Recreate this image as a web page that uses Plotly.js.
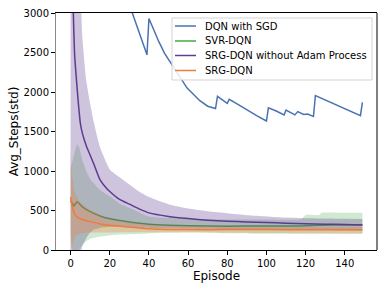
<!DOCTYPE html>
<html>
<head>
<meta charset="utf-8">
<script src="https://cdn.plot.ly/plotly-3.0.1.min.js"></script>
<style>html,body{margin:0;padding:0;background:#fff}#chart{width:388px;height:291px}</style>
</head>
<body>
<div id="chart"></div>
<script>
// DQN with SGD (mean only)
const dqnX = [28, 31.5, 35.7, 39, 40, 45, 48, 53, 59.5, 66, 70, 74, 75, 80, 81, 85, 90, 95, 100, 101, 105, 109, 110, 114.5, 116, 119, 121, 124, 125, 130, 135, 140, 145, 148, 149];
const dqnY = [3250, 3000, 2700, 2470, 2930, 2640, 2490, 2300, 2050, 1890, 1820, 1790, 1945, 1857, 1907, 1850, 1770, 1700, 1633, 1800, 1760, 1710, 1772, 1710, 1752, 1715, 1720, 1690, 1955, 1900, 1840, 1790, 1740, 1700, 1870];

// SVR-DQN
const svrX = [0, 1, 1.7, 2.5, 3.4, 4.3, 6, 8.5, 10, 15, 20, 25, 30, 40, 50, 60, 80, 100, 118, 120, 127, 128, 140, 149];
const svrMean = [620, 585, 557, 585, 611, 590, 545, 505, 485, 430, 395, 372, 355, 325, 312, 306, 302, 303, 305, 308, 312, 314, 318, 320];
const svrUpper = [1040, 1130, 1200, 1270, 1340, 1300, 1140, 970, 900, 760, 680, 590, 535, 425, 405, 392, 386, 385, 390, 443, 443, 470, 470, 470];
const svrLower = [200, -50, -100, -80, -40, 0, 60, 120, 140, 170, 185, 195, 200, 210, 220, 225, 212, 205, 205, 205, 205, 205, 205, 205];

// SRG-DQN without Adam Process
const noAdamX = [0, 1, 1.4, 2, 3, 4, 5, 6, 8, 10, 12, 15, 18, 20, 25, 30, 35, 40, 50, 60, 70, 80, 90, 100, 110, 120, 130, 140, 149];
const noAdamMean = [4800, 3400, 3000, 2500, 2150, 1850, 1600, 1480, 1320, 1200, 1080, 890, 790, 740, 640, 580, 520, 470, 425, 398, 378, 365, 355, 348, 340, 333, 327, 322, 318];
const noAdamUpper = [12000, 9000, 8000, 6500, 5000, 4000, 3300, 2700, 2150, 1850, 1600, 1300, 1120, 1020, 920, 830, 740, 670, 580, 525, 490, 465, 440, 425, 410, 402, 398, 395, 393];
const noAdamLower = [-2400, -2200, -2000, -1500, -700, -300, -100, 50, 150, 220, 260, 280, 290, 295, 295, 290, 285, 280, 275, 272, 268, 265, 265, 265, 262, 258, 254, 249, 243];

// SRG-DQN
const srgX = [0, 0.5, 1, 2, 3, 5, 8, 10, 15, 20, 30, 40, 60, 80, 100, 120, 149];
const srgMean = [670, 600, 540, 460, 425, 395, 370, 360, 330, 312, 292, 270, 258, 258, 258, 257, 257];
const srgUpper = [1300, 1040, 900, 750, 680, 600, 540, 510, 440, 390, 350, 320, 300, 295, 292, 290, 290];
const srgLower = [0, 30, 80, 150, 190, 210, 218, 220, 222, 222, 225, 225, 220, 218, 215, 212, 210];

// Legend labels (drawn in the same order as the reference)
const legendNames = ['DQN with SGD', 'SVR-DQN', 'SRG-DQN without Adam Process', 'SRG-DQN'];

const blue = '#4a72b2', green = '#45a845', purple = '#5d3b8f', orange = '#ef7d3a';
const legendColors = [blue, green, purple, orange];

function band(x, up, lo, fillcolor) {
  return [
    {x: x, y: up, type: 'scatter', mode: 'lines', line: {width: 0, color: fillcolor, shape: 'spline', smoothing: 0.5}, showlegend: false, hoverinfo: 'skip'},
    {x: x, y: lo, type: 'scatter', mode: 'lines', line: {width: 0, color: fillcolor, shape: 'spline', smoothing: 0.5}, fill: 'tonexty', fillcolor: fillcolor, showlegend: false, hoverinfo: 'skip'}
  ];
}

const traces = [].concat(
  [{x: dqnX, y: dqnY, type: 'scatter', mode: 'lines', name: legendNames[0], line: {color: blue, width: 1.5}, showlegend: false}],
  band(svrX, svrUpper, svrLower, 'rgba(69,168,69,0.25)'),
  [{x: svrX, y: svrMean, type: 'scatter', mode: 'lines', name: legendNames[1], line: {color: green, width: 1.5, shape: 'spline', smoothing: 0.5}, showlegend: false}],
  band(noAdamX, noAdamUpper, noAdamLower, 'rgba(93,59,143,0.3)'),
  [{x: noAdamX, y: noAdamMean, type: 'scatter', mode: 'lines', name: legendNames[2], line: {color: purple, width: 1.5, shape: 'spline', smoothing: 0.5}, showlegend: false}],
  band(srgX, srgUpper, srgLower, 'rgba(239,125,58,0.3)'),
  [{x: srgX, y: srgMean, type: 'scatter', mode: 'lines', name: legendNames[3], line: {color: orange, width: 1.5, shape: 'spline', smoothing: 0.5}, showlegend: false}]
);

// Custom legend box (matplotlib-like compact layout)
const lgX0 = 0.3614, lgX1 = 0.9844, lgY0 = 0.7173, lgY1 = 0.9789;
const entryY = [0.9451, 0.8819, 0.8207, 0.7574];
const shapes = [
  {type: 'line', xref: 'paper', yref: 'paper', x0: 1, x1: 1, y0: 0, y1: 1, line: {color: '#000', width: 1}},
  {type: 'rect', xref: 'paper', yref: 'paper', x0: lgX0, x1: lgX1, y0: lgY0, y1: lgY1, layer: 'above',
   fillcolor: 'rgba(255,255,255,0.85)', line: {color: '#d4d4d4', width: 1}}
];
const annotations = [];
legendNames.forEach((nm, i) => {
  shapes.push({type: 'line', xref: 'paper', yref: 'paper', x0: 0.3707, x1: 0.4361, y0: entryY[i], y1: entryY[i], layer: 'above', line: {color: legendColors[i], width: 1.5}});
  annotations.push({xref: 'paper', yref: 'paper', x: 0.4579, y: entryY[i], xanchor: 'left', yanchor: 'middle', showarrow: false, text: nm,
    font: {family: 'DejaVu Sans', size: 10, color: '#000'}});
});

const font = {family: 'DejaVu Sans', size: 10, color: '#000'};
const layout = {
  width: 388, height: 291,
  margin: {l: 56, r: 11, t: 13, b: 41, pad: 0},
  paper_bgcolor: '#fff', plot_bgcolor: '#fff',
  font: font,
  showlegend: false,
  xaxis: {
    range: [-7.45, 156.45], tickvals: [0, 20, 40, 60, 80, 100, 120, 140],
    showgrid: false, zeroline: false, ticks: 'outside', ticklen: 3.5, tickcolor: '#000',
    showline: true, linecolor: '#000', linewidth: 1, mirror: true,
    title: {text: 'Episode', font: {family: 'DejaVu Sans', size: 12, color: '#000'}, standoff: 4},
    tickfont: font
  },
  yaxis: {
    range: [0, 3000], tickvals: [0, 500, 1000, 1500, 2000, 2500, 3000],
    showgrid: false, zeroline: false, ticks: 'outside', ticklen: 3.5, tickcolor: '#000',
    showline: true, linecolor: '#8a8a8a', linewidth: 1.5, mirror: false,
    title: {text: 'Avg_Steps(std)', font: {family: 'DejaVu Sans', size: 12, color: '#000'}, standoff: 2},
    tickfont: font
  },
  shapes: shapes,
  annotations: annotations
};

Plotly.newPlot('chart', traces, layout, {displayModeBar: false, staticPlot: true});
</script>
</body>
</html>
